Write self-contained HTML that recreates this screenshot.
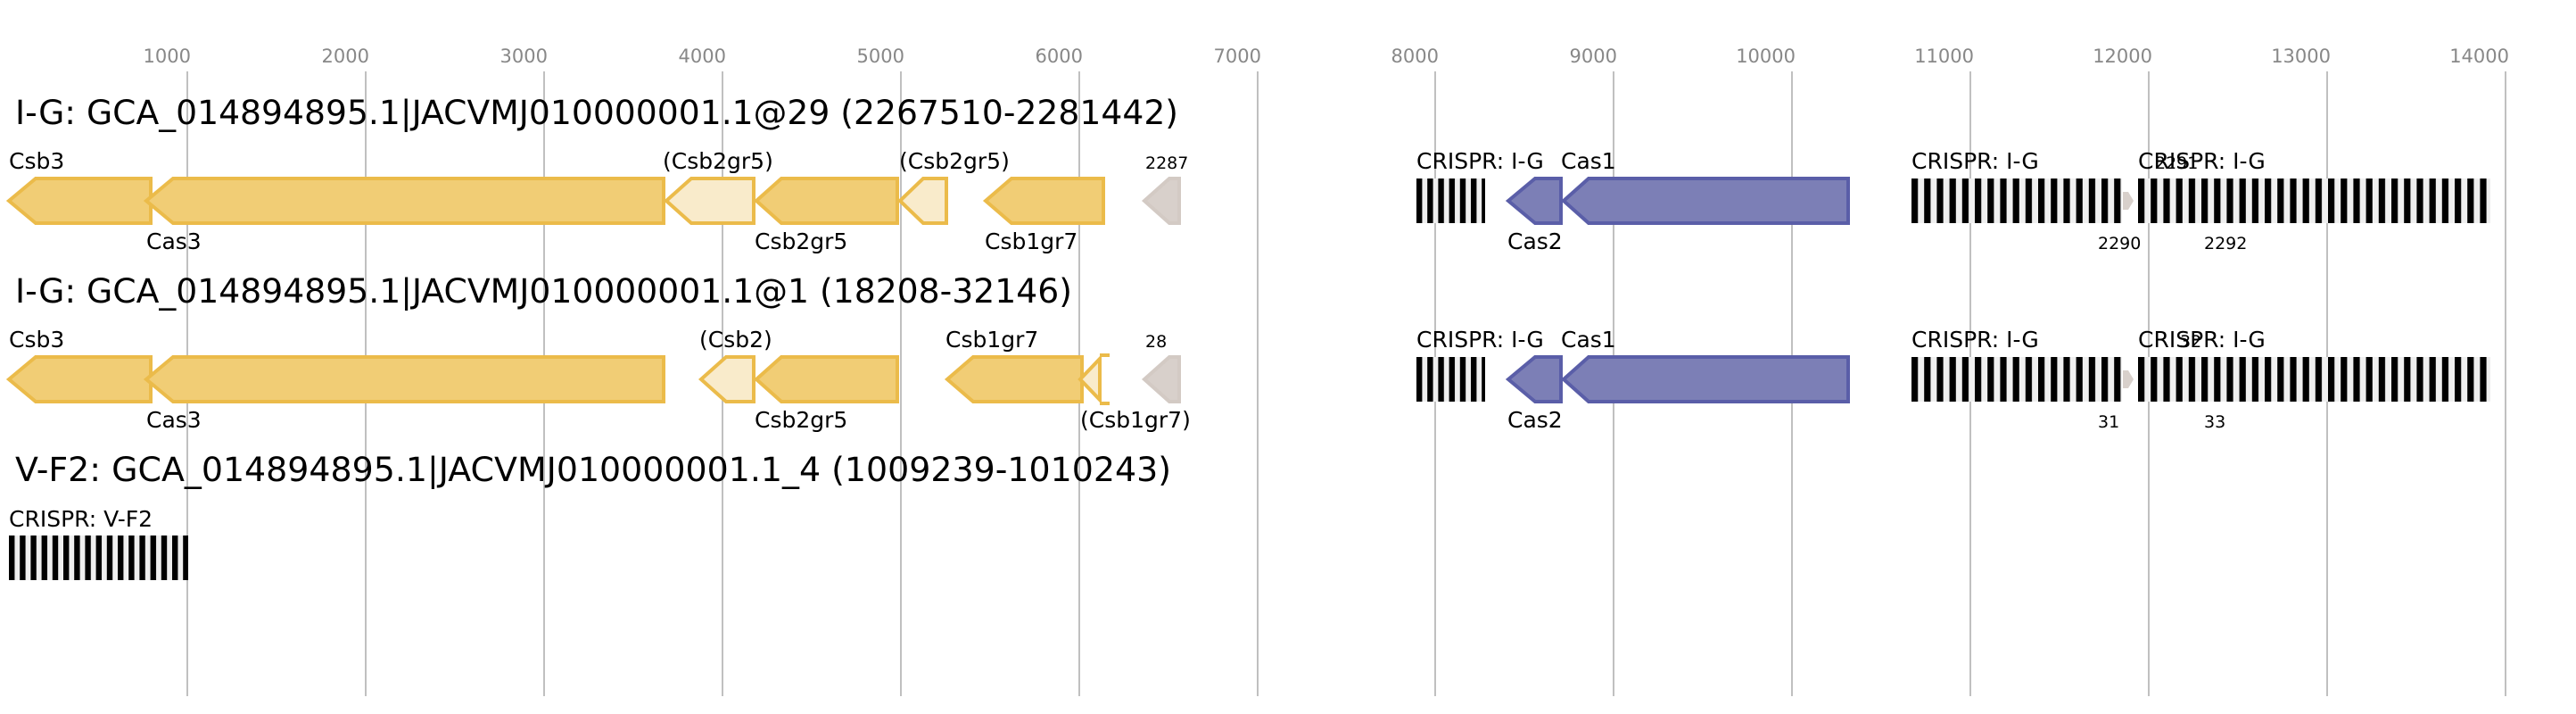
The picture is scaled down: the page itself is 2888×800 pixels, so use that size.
<!DOCTYPE html>
<html><head><meta charset="utf-8"><style>
html,body{margin:0;padding:0;background:#fff;width:2888px;height:800px;overflow:hidden}
text{font-family:"DejaVu Sans","Liberation Sans",sans-serif}
</style></head><body>
<svg width="2888" height="800" viewBox="0 0 2888 800" xmlns="http://www.w3.org/2000/svg">
<defs>
<pattern id="cr2" x="10" y="0" width="12.2" height="10" patternUnits="userSpaceOnUse">
<rect x="0" y="0" width="12.2" height="10" fill="#efefef"/><rect x="0" y="0" width="6.4" height="10" fill="#000"/>
</pattern>
<pattern id="cr1" x="1588" y="0" width="12.2" height="10" patternUnits="userSpaceOnUse">
<rect x="0" y="0" width="12.2" height="10" fill="#efefef"/><rect x="0" y="0" width="6.4" height="10" fill="#000"/>
</pattern>
<pattern id="crb" x="2143" y="0" width="14.2" height="10" patternUnits="userSpaceOnUse">
<rect x="0" y="0" width="14.2" height="10" fill="#efefef"/><rect x="0" y="0" width="7.2" height="10" fill="#000"/>
</pattern>
<pattern id="crc" x="2397" y="0" width="14.2" height="10" patternUnits="userSpaceOnUse">
<rect x="0" y="0" width="14.2" height="10" fill="#efefef"/><rect x="0" y="0" width="7.2" height="10" fill="#000"/>
</pattern>
</defs>
<g stroke="#c0c0c0" stroke-width="2">
<line x1="210" y1="80" x2="210" y2="780"/><line x1="410" y1="80" x2="410" y2="780"/><line x1="610" y1="80" x2="610" y2="780"/><line x1="810" y1="80" x2="810" y2="780"/><line x1="1010" y1="80" x2="1010" y2="780"/><line x1="1210" y1="80" x2="1210" y2="780"/><line x1="1410" y1="80" x2="1410" y2="780"/><line x1="1609" y1="80" x2="1609" y2="780"/><line x1="1809" y1="80" x2="1809" y2="780"/><line x1="2009" y1="80" x2="2009" y2="780"/><line x1="2209" y1="80" x2="2209" y2="780"/><line x1="2409" y1="80" x2="2409" y2="780"/><line x1="2609" y1="80" x2="2609" y2="780"/><line x1="2809" y1="80" x2="2809" y2="780"/>
</g>
<g fill="#888" font-size="21" text-anchor="end">
<text x="214" y="70">1000</text><text x="414" y="70">2000</text><text x="614" y="70">3000</text><text x="814" y="70">4000</text><text x="1014" y="70">5000</text><text x="1214" y="70">6000</text><text x="1414" y="70">7000</text><text x="1613" y="70">8000</text><text x="1813" y="70">9000</text><text x="2013" y="70">10000</text><text x="2213" y="70">11000</text><text x="2413" y="70">12000</text><text x="2613" y="70">13000</text><text x="2813" y="70">14000</text>
</g>
<g font-size="37.5" fill="#000">
<text x="17" y="139" textLength="1304" lengthAdjust="spacingAndGlyphs">I-G: GCA_014894895.1|JACVMJ010000001.1@29 (2267510-2281442)</text>
<text x="17" y="339" textLength="1185" lengthAdjust="spacingAndGlyphs">I-G: GCA_014894895.1|JACVMJ010000001.1@1 (18208-32146)</text>
<text x="17" y="539" textLength="1296" lengthAdjust="spacingAndGlyphs">V-F2: GCA_014894895.1|JACVMJ010000001.1_4 (1009239-1010243)</text>
</g>
<!-- row 1 -->
<g stroke-width="4" stroke-linejoin="miter">
<polygon points="10,225 40,200 169,200 169,250 40,250" fill="#f1cd75" stroke="#ebbb4a"/>
<polygon points="164,225 194,200 744,200 744,250 194,250" fill="#f1cd75" stroke="#ebbb4a"/>
<polygon points="747,225 775,200 845,200 845,250 775,250" fill="#f9ebcb" stroke="#ebbb4a"/>
<polygon points="848,225 876,200 1006,200 1006,250 876,250" fill="#f1cd75" stroke="#ebbb4a"/>
<polygon points="1009,225 1035,200 1061,200 1061,250 1035,250" fill="#f9ebcb" stroke="#ebbb4a"/>
<polygon points="1105,225 1134,200 1237,200 1237,250 1134,250" fill="#f1cd75" stroke="#ebbb4a"/>
<polygon points="1283,225 1311,200 1322,200 1322,250 1311,250" fill="#d8d0cb" stroke="#d3cac4"/>
<polygon points="1691,225 1721,200 1750,200 1750,250 1721,250" fill="#7c7fb6" stroke="#5a5ea8"/>
<polygon points="1753,225 1781,200 2072,200 2072,250 1781,250" fill="#7c7fb6" stroke="#5a5ea8"/>
</g>
<rect x="1588" y="200" width="77" height="50" fill="url(#cr1)"/>
<rect x="2143" y="200" width="236" height="50" fill="url(#crb)"/>
<polygon points="2380,215 2386,215 2392,225 2386,235 2380,235" fill="#d8d0cb"/>
<rect x="2397" y="200" width="395" height="50" fill="url(#crc)"/>
<g font-size="25" fill="#000">
<text x="10" y="189">Csb3</text><text x="164" y="279">Cas3</text>
<text x="743" y="189">(Csb2gr5)</text><text x="846" y="279">Csb2gr5</text>
<text x="1008" y="189">(Csb2gr5)</text><text x="1104" y="279">Csb1gr7</text>
<text x="1588" y="189">CRISPR: I-G</text><text x="1750" y="189">Cas1</text><text x="1690" y="279">Cas2</text>
<text x="2143" y="189">CRISPR: I-G</text><text x="2397" y="189">CRISPR: I-G</text>
</g>
<g font-size="19" fill="#000">
<text x="1284" y="189">2287</text><text x="2416" y="189">2291</text><text x="2352" y="279">2290</text><text x="2471" y="279">2292</text>
</g>
<!-- row 2 -->
<g stroke-width="4">
<polygon points="10,425 40,400 169,400 169,450 40,450" fill="#f1cd75" stroke="#ebbb4a"/>
<polygon points="164,425 194,400 744,400 744,450 194,450" fill="#f1cd75" stroke="#ebbb4a"/>
<polygon points="786,425 814,400 845,400 845,450 814,450" fill="#f9ebcb" stroke="#ebbb4a"/>
<polygon points="848,425 876,400 1006,400 1006,450 876,450" fill="#f1cd75" stroke="#ebbb4a"/>
<polygon points="1062,425 1091,400 1213,400 1213,450 1091,450" fill="#f1cd75" stroke="#ebbb4a"/>
<polygon points="1211,425 1233,402 1233,448" fill="#f9ebcb" stroke="#ebbb4a"/>
<line x1="1233" y1="398" x2="1244" y2="398" stroke="#ebbb4a"/>
<line x1="1233" y1="452" x2="1244" y2="452" stroke="#ebbb4a"/>
<polygon points="1283,425 1311,400 1322,400 1322,450 1311,450" fill="#d8d0cb" stroke="#d3cac4"/>
<polygon points="1691,425 1721,400 1750,400 1750,450 1721,450" fill="#7c7fb6" stroke="#5a5ea8"/>
<polygon points="1753,425 1781,400 2072,400 2072,450 1781,450" fill="#7c7fb6" stroke="#5a5ea8"/>
</g>
<rect x="1588" y="400" width="77" height="50" fill="url(#cr1)"/>
<rect x="2143" y="400" width="236" height="50" fill="url(#crb)"/>
<polygon points="2380,415 2386,415 2392,425 2386,435 2380,435" fill="#d8d0cb"/>
<rect x="2397" y="400" width="395" height="50" fill="url(#crc)"/>
<g font-size="25" fill="#000">
<text x="10" y="389">Csb3</text><text x="164" y="479">Cas3</text>
<text x="784" y="389">(Csb2)</text><text x="846" y="479">Csb2gr5</text>
<text x="1060" y="389">Csb1gr7</text><text x="1211" y="479">(Csb1gr7)</text>
<text x="1588" y="389">CRISPR: I-G</text><text x="1750" y="389">Cas1</text><text x="1690" y="479">Cas2</text>
<text x="2143" y="389">CRISPR: I-G</text><text x="2397" y="389">CRISPR: I-G</text>
</g>
<g font-size="19" fill="#000">
<text x="1284" y="389">28</text><text x="2444" y="389">32</text><text x="2352" y="479">31</text><text x="2471" y="479">33</text>
</g>
<!-- row 3 -->
<rect x="10" y="600" width="201" height="50" fill="url(#cr2)"/>
<text x="10" y="590" font-size="25" fill="#000">CRISPR: V-F2</text>
</svg>
</body></html>
